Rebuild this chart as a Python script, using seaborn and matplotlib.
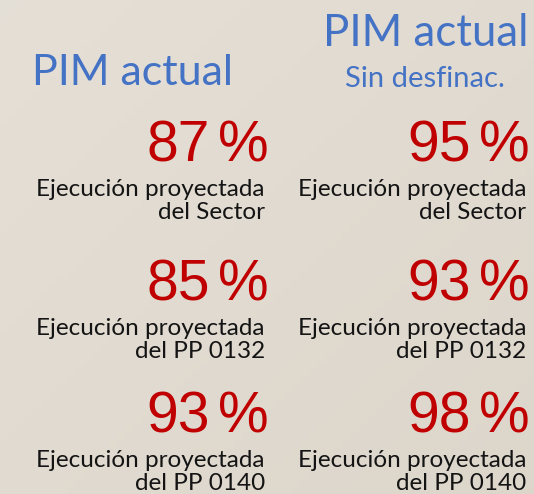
import numpy as np
import matplotlib
matplotlib.use("Agg")
import matplotlib.pyplot as plt
import seaborn as sns

# ===============================
# Data
# ===============================
column_titles = ["PIM actual", "PIM actual"]
column_subtitles = ["", "Sin desfinac."]
pct_actual = [87, 85, 93]
pct_sin_desfinac = [95, 93, 98]
row_labels = ["del Sector", "del PP 0132", "del PP 0140"]
label_prefix = "Ejecución proyectada"

# ===============================
# Style
# ===============================
sns.set_theme(style="white")
plt.rcParams['font.family'] = ['Lato', 'DejaVu Sans']

blue = "#4472c4"
red = "#c00000"
dark = "#141414"
num_font = ["Liberation Sans", "DejaVu Sans"]

fig = plt.figure(figsize=(5.34, 4.94), dpi=100)
ax = fig.add_axes([0, 0, 1, 1])
ax.set_xlim(0, 534)
ax.set_ylim(494, 0)
ax.axis("off")

# subtle beige background gradient
gx, gy = np.meshgrid(np.linspace(0, 1, 64), np.linspace(0, 1, 64))
g = (gx + gy) / 2
c0 = np.array([0.898, 0.875, 0.840])
c1 = np.array([0.867, 0.839, 0.796])
bg = c0[None, None, :] * (1 - g[..., None]) + c1[None, None, :] * g[..., None]
ax.imshow(bg, extent=[0, 534, 494, 0], aspect="auto", zorder=0)

# ===============================
# Headers
# ===============================
ax.text(133, 85, column_titles[0], color=blue, fontsize=31, ha="center",
        va="baseline")
ax.text(426, 46, column_titles[1], color=blue, fontsize=31.5, ha="center",
        va="baseline")
ax.text(425, 87, column_subtitles[1], color=blue, fontsize=21, ha="center",
        va="baseline")

# ===============================
# Percentages and descriptions
# ===============================
row_y = [161, 300, 432]
col_right = [269, 530]
desc_right = [265, 526]
for col, values in enumerate([pct_actual, pct_sin_desfinac]):
    xr = col_right[col]
    for i, v in enumerate(values):
        y = row_y[i]
        ax.text(xr, y, "%", color=red, fontsize=41, family=num_font,
                ha="right", va="baseline")
        ax.text(xr - 59, y, f"{v}", color=red, fontsize=41, family=num_font,
                ha="right", va="baseline")
        ax.text(desc_right[col], y + 35, label_prefix, color=dark,
                fontsize=17.5, ha="right", va="baseline")
        ax.text(desc_right[col], y + 58, row_labels[i], color=dark,
                fontsize=17.5, ha="right", va="baseline")

plt.savefig("out.png", dpi=100)
plt.close()
